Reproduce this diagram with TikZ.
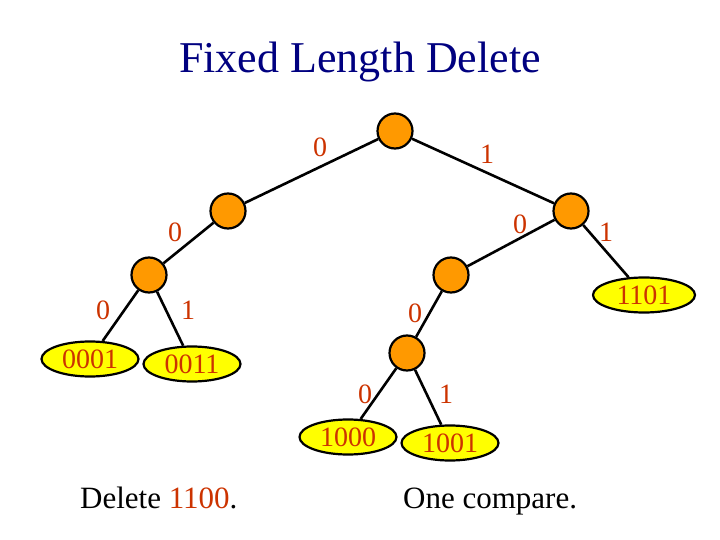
\documentclass[tikz,border=0pt]{standalone}
\usepackage{fontspec}
\setmainfont{Liberation Serif}
\usetikzlibrary{shapes.geometric}
\definecolor{nodeorange}{RGB}{255,153,0}
\definecolor{leafyellow}{RGB}{255,255,0}
\definecolor{bitred}{RGB}{204,51,0}
\definecolor{titleblue}{RGB}{0,0,128}
\tikzset{
  inner/.style={draw, circle, line width=2.2pt, fill=nodeorange, minimum size=35pt, inner sep=0pt},
  leaf/.style={draw, ellipse, line width=2.2pt, fill=leafyellow, minimum width=97pt, minimum height=35pt, inner sep=0pt, text=bitred, font=\fontsize{28}{30}\selectfont},
  bit/.style={text=bitred, font=\fontsize{28}{30}\selectfont, inner sep=0pt},
  link/.style={line width=2.6pt},
  caption/.style={anchor=base west, inner sep=0pt, font=\fontsize{31}{36}\selectfont}
}
\begin{document}
\begin{tikzpicture}[x=1pt, y=-1pt]
  \useasboundingbox (0,0) rectangle (720,540);
  \node[anchor=base, text=titleblue, font=\fontsize{44}{50}\selectfont] (title) at (360,73) {Fixed Length Delete};
  % tree nodes
  \node[inner] (r) at (395,131) {};
  \node[inner] (l) at (228,211) {};
  \node[inner] (rr) at (571,211) {};
  \node[inner] (ll) at (149,275) {};
  \node[inner] (rl) at (451,275) {};
  \node[inner] (rll) at (407,353) {};
  % leaves
  \node[leaf] (p0001) at (90,359) {0001};
  \node[leaf] (p0011) at (192,364) {0011};
  \node[leaf] (p1000) at (348,437) {1000};
  \node[leaf] (p1001) at (450,443) {1001};
  \node[leaf, minimum width=102pt] (p1101) at (644,295) {1101};
  % edges
  \draw[link] (r) -- (l);
  \draw[link] (r) -- (rr);
  \draw[link] (l) -- (ll);
  \draw[link] (ll) -- (p0001);
  \draw[link] (ll) -- (p0011);
  \draw[link] (rr) -- (rl);
  \draw[link] (rr) -- (p1101);
  \draw[link] (rl) -- (rll);
  \draw[link] (rll) -- (p1000);
  \draw[link] (rll) -- (p1001);
  % edge bits
  \node[bit] (b1) at (320,147) {0};
  \node[bit] (b2) at (487,154) {1};
  \node[bit] (b3) at (175,232) {0};
  \node[bit] (b4) at (520,224) {0};
  \node[bit] (b5) at (606,232) {1};
  \node[bit] (b6) at (103,310) {0};
  \node[bit] (b7) at (188,310) {1};
  \node[bit] (b8) at (415,313) {0};
  \node[bit] (b9) at (365,394) {0};
  \node[bit] (b10) at (446,394) {1};
  % captions
  \node[caption] (del) at (80,508) {Delete \textcolor{bitred}{1100}.};
  \node[caption] (cmp) at (403,508) {One compare.};
\end{tikzpicture}
\end{document}
